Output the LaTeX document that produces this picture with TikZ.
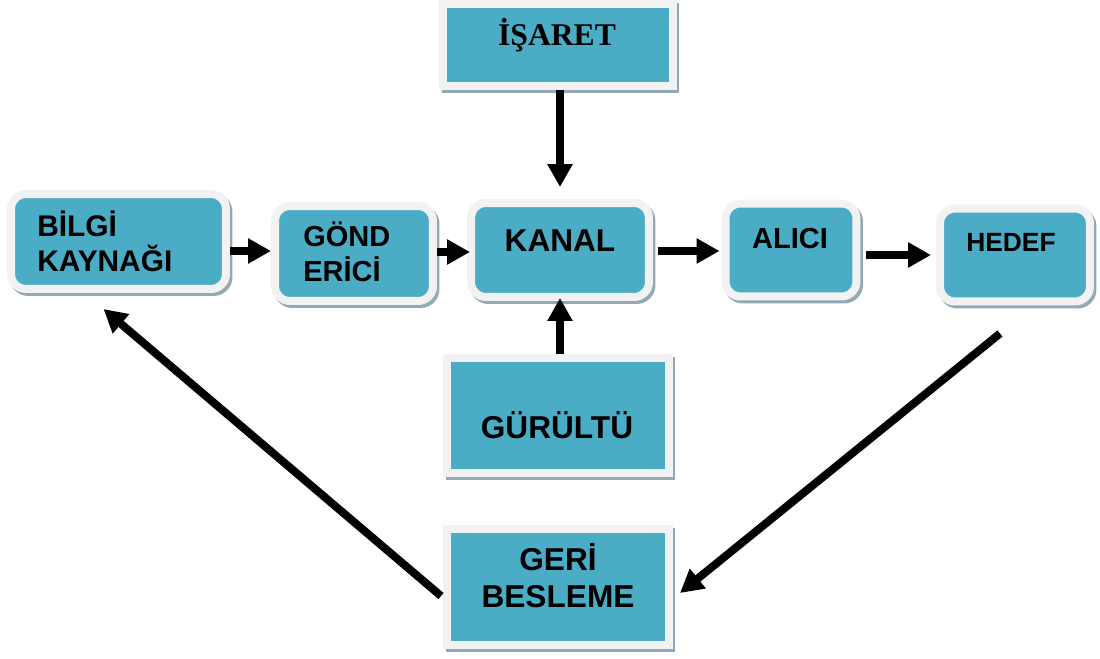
\documentclass[tikz,border=0pt]{standalone}
\usepackage{fontspec}
\setmainfont{Liberation Sans}
\newfontfamily\serifbold{Liberation Serif}
\usepackage{tikz}
\usetikzlibrary{arrows.meta,shadows}

\definecolor{boxblue}{HTML}{4BACC6}
\definecolor{framegray}{HTML}{F2F2F2}
\definecolor{shadowgray}{HTML}{93A9B3}

\tikzset{
	box/.style={fill=boxblue, draw=framegray, line width=0.16cm, inner sep=0pt,
		rounded corners=0.3cm,
		drop shadow={shadow xshift=0.05cm, shadow yshift=-0.06cm, fill=shadowgray,
			draw=shadowgray, line width=0.16cm, opacity=1}},
	sqbox/.style={box, sharp corners},
	lbl/.style={inner sep=0pt, font=\bfseries\fontsize{16.5}{20}\selectfont},
	big/.style={inner sep=0pt, font=\bfseries\fontsize{18}{21}\selectfont},
	arr/.style={-{Triangle[width=0.48cm,length=0.46cm]}, line width=0.16cm}
}

\begin{document}
\begin{tikzpicture}[x=0.02cm,y=-0.02cm]
		\useasboundingbox (0,0) rectangle (1100,659);
		% boxes
		\node[box, minimum width=4.3cm, minimum height=1.9cm] (bilgi) at (118.5,241.5) {};
		\node[box, minimum width=3.16cm, minimum height=1.9cm] (gond) at (354,253.5) {};
		\node[box, minimum width=3.56cm, minimum height=1.88cm] (kanal) at (560,250) {};
		\node[box, minimum width=2.62cm, minimum height=1.86cm] (alici) at (791,250) {};
		\node[box, minimum width=3.0cm, minimum height=1.86cm] (hedef) at (1015,255) {};
		\node[sqbox, minimum width=4.6cm, minimum height=1.66cm] (isaret) at (558,45) {};
		\node[sqbox, minimum width=4.44cm, minimum height=2.3cm] (gurultu) at (558,415.5) {};
		\node[sqbox, minimum width=4.44cm, minimum height=2.32cm] (geri) at (558,587) {};
		%
		\node[lbl, font=\bfseries\fontsize{17}{20}\selectfont, align=left, anchor=west] (bilgi-t) at (37,241.5) {BİLGİ\\KAYNAĞI};
		\node[lbl, align=left, anchor=west] (gond-t) at (303,252) {GÖND\\ERİCİ};
		\node[big, anchor=base] (kanal-t) at (560,251) {KANAL};
		\node[lbl, anchor=base] (alici-t) at (790,248) {ALICI};
		\node[lbl, font=\bfseries\fontsize{15}{18}\selectfont, anchor=base] (hedef-t) at (1011,251) {HEDEF};
		\node[big, font=\serifbold\bfseries\fontsize{18}{21}\selectfont, anchor=base] (isaret-t) at (557,46) {İŞARET};
		\node[big, anchor=base] (gurultu-t) at (557,438) {GÜRÜLTÜ};
		\node[big, align=center] (geri-t) at (558,576) {GERİ\\BESLEME};
		%
		\path[arr]
		(bilgi.east |- 0,251) edge (gond.west |- 0,251)
		(gond.east |- 0,252) edge ([xshift=0.06cm]kanal.west |- 0,252)
		([xshift=0.1cm]kanal.east |- 0,251) edge ([xshift=-0.04cm]alici.west |- 0,251)
		([xshift=0.12cm]alici.east |- 0,255) edge ([xshift=-0.1cm]hedef.west |- 0,255)
		(kanal.north |- isaret.south) edge ([yshift=0.24cm]kanal.north)
		(kanal.south |- gurultu.north) edge ([yshift=0.06cm]kanal.south)
		([shift={(-15,28)}]hedef.south) edge ([shift={(7,6)}]geri.east)
		([shift={(-2,9)}]geri.west) edge ([shift={(-15,16)}]bilgi.south);
\end{tikzpicture}
\end{document}
